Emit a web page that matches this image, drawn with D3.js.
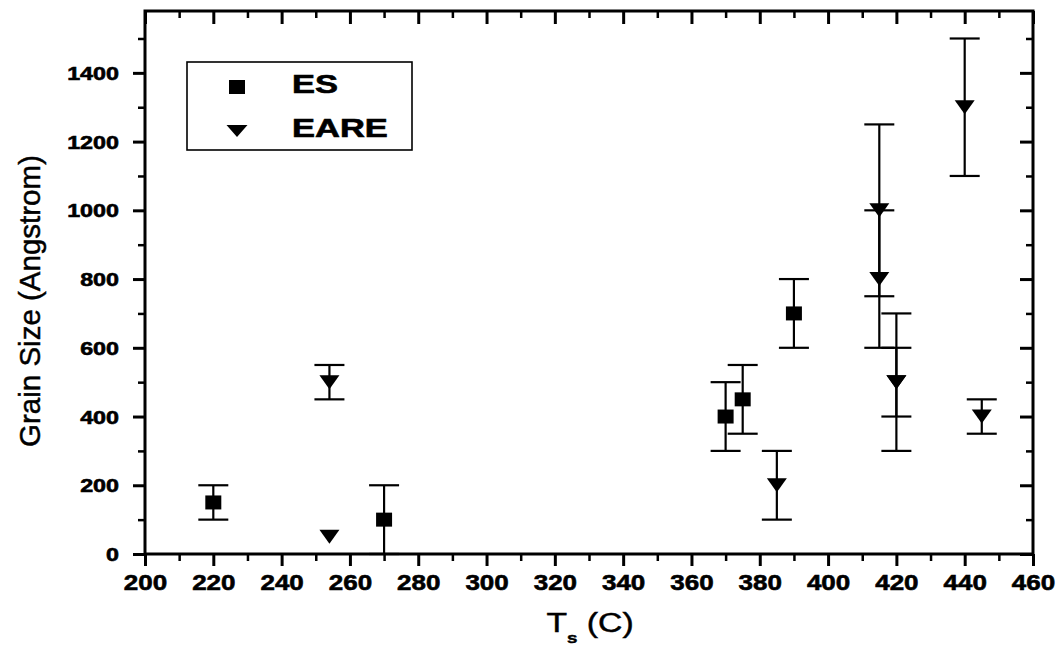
<!DOCTYPE html>
<html>
<head>
<meta charset="utf-8">
<script src="https://cdn.jsdelivr.net/npm/d3@7"></script>
<style>
  html, body { margin: 0; padding: 0; background: #fff; }
  svg { display: block; }
  text { font-family: "Liberation Sans", Arial, Helvetica, sans-serif; fill: #000; }
  text.heavy { stroke: #000; stroke-width: 0.6px; }
  text.medium { stroke: #000; stroke-width: 0.45px; }
</style>
</head>
<body>
<svg id="chart" width="1060" height="650"></svg>
<script>
// Substrate temperature (C) and grain size (Angstrom) with error half-widths
const esTemp  = [220, 270, 370, 375, 390];
const esSize  = [150, 100, 400, 450, 700];
const esErr   = [50, 100, 100, 100, 100];

const eareTemp = [254, 254, 385, 415, 415, 420, 420, 440, 445];
const eareSize = [500, 50, 200, 1000, 800, 500, 500, 1300, 400];
const eareErr  = [50, 0, 100, 250, 200, 200, 100, 200, 50];

const xTicks = [200, 220, 240, 260, 280, 300, 320, 340, 360, 380, 400, 420, 440, 460];
const yTicks = [0, 200, 400, 600, 800, 1000, 1200, 1400];
const xMinor = d3.range(210, 460, 20);
const yMinor = d3.range(100, 1580, 200);

const seriesNames = ["ES", "EARE"];

const svg = d3.select("#chart");
const L = 145, R = 1033, T = 11, B = 554;

const x = d3.scaleLinear().domain([200, 460]).range([L, R]);
const y = d3.scaleLinear().domain([0, 1580]).range([B, T]);

// ---- axes: major ticks outward on bottom/left, inward on top/right ----
function styleTicks(g, width) {
  g.select(".domain").remove();
  g.selectAll(".tick line").attr("stroke", "#000").attr("stroke-width", width);
}

const gxMajor = svg.append("g").attr("transform", `translate(0,${B})`)
  .call(d3.axisBottom(x).tickValues(xTicks).tickSize(12).tickSizeOuter(0).tickFormat(d3.format("d")));
styleTicks(gxMajor, 3);
gxMajor.selectAll(".tick text")
  .attr("class", "heavy")
  .attr("y", 36).attr("dy", null)
  .attr("font-size", 22).attr("font-weight", "bold")
  .attr("transform", "scale(1.18,1)");

const gxMinor = svg.append("g").attr("transform", `translate(0,${B})`)
  .call(d3.axisBottom(x).tickValues(xMinor).tickSize(7).tickFormat(""));
styleTicks(gxMinor, 2.5);

const gtMajor = svg.append("g").attr("transform", `translate(0,${T})`)
  .call(d3.axisTop(x).tickValues(xTicks).tickSize(-13).tickFormat(""));
styleTicks(gtMajor, 3);
const gtMinor = svg.append("g").attr("transform", `translate(0,${T})`)
  .call(d3.axisTop(x).tickValues(xMinor).tickSize(-7).tickFormat(""));
styleTicks(gtMinor, 2.5);

const gyMajor = svg.append("g").attr("transform", `translate(${L},0)`)
  .call(d3.axisLeft(y).tickValues(yTicks).tickSize(12).tickSizeOuter(0).tickFormat(d3.format("d")));
styleTicks(gyMajor, 3);
gyMajor.selectAll(".tick text")
  .attr("class", "heavy")
  .attr("x", -26 / 1.26).attr("dy", "0.36em")
  .attr("font-size", 18.5).attr("font-weight", "bold")
  .attr("transform", "scale(1.26,1)");

const gyMinor = svg.append("g").attr("transform", `translate(${L},0)`)
  .call(d3.axisLeft(y).tickValues(yMinor).tickSize(7).tickFormat(""));
styleTicks(gyMinor, 2.5);

const grMajor = svg.append("g").attr("transform", `translate(${R},0)`)
  .call(d3.axisRight(y).tickValues(yTicks).tickSize(-13).tickFormat(""));
styleTicks(grMajor, 3);
const grMinor = svg.append("g").attr("transform", `translate(${R},0)`)
  .call(d3.axisRight(y).tickValues(yMinor).tickSize(-7).tickFormat(""));
styleTicks(grMinor, 2.5);

// plot frame
svg.append("rect")
  .attr("x", L).attr("y", T).attr("width", R - L).attr("height", B - T)
  .attr("fill", "none").attr("stroke", "#000").attr("stroke-width", 3);

// ---- error bars ----
const capHalf = 15;
function errorBars(temps, sizes, errs) {
  const g = svg.append("g").attr("stroke", "#000").attr("stroke-width", 2.2).attr("fill", "none");
  temps.forEach((t, i) => {
    if (!errs[i]) return;
    const cx = x(t), lo = y(sizes[i] - errs[i]), hi = y(sizes[i] + errs[i]);
    g.append("line").attr("x1", cx).attr("x2", cx).attr("y1", lo).attr("y2", hi);
    g.append("line").attr("x1", cx - capHalf).attr("x2", cx + capHalf).attr("y1", lo).attr("y2", lo);
    g.append("line").attr("x1", cx - capHalf).attr("x2", cx + capHalf).attr("y1", hi).attr("y2", hi);
  });
}
errorBars(esTemp, esSize, esErr);
errorBars(eareTemp, eareSize, eareErr);

// ---- markers ----
const sqW = 16, sqH = 14, triW = 20, triH = 14;
function squarePath(w, h) {
  return `M${-w / 2},${-h / 2}H${w / 2}V${h / 2}H${-w / 2}Z`;
}
function downTriPath(w, h) {
  return `M${-w / 2},${-h / 2}H${w / 2}L0,${h / 2}Z`;
}

svg.append("g").selectAll("path").data(esTemp).join("path")
  .attr("d", squarePath(sqW, sqH))
  .attr("transform", (d, i) => `translate(${x(d)},${y(esSize[i])})`)
  .attr("fill", "#000");

svg.append("g").selectAll("path").data(eareTemp).join("path")
  .attr("d", downTriPath(triW, triH))
  .attr("transform", (d, i) => `translate(${x(d)},${y(eareSize[i])})`)
  .attr("fill", "#000");

// ---- legend ----
const leg = svg.append("g");
leg.append("rect").attr("x", 187).attr("y", 62).attr("width", 225).attr("height", 88)
  .attr("fill", "#fff").attr("stroke", "#000").attr("stroke-width", 1.6);
leg.append("path").attr("d", squarePath(16, 14)).attr("transform", "translate(237,87)").attr("fill", "#000");
leg.append("path").attr("d", downTriPath(21, 12)).attr("transform", "translate(237,131)").attr("fill", "#000");
[[seriesNames[0], 93], [seriesNames[1], 137]].forEach(([name, base]) => {
  leg.append("g").attr("transform", `translate(292,${base})`)
    .append("text").attr("class", "heavy").attr("font-size", 25).attr("font-weight", "bold")
    .attr("transform", "scale(1.38,1)").text(name);
});

// ---- axis titles ----
const xt = svg.append("g").attr("transform", "translate(590,632)")
  .append("text").attr("class", "medium").attr("text-anchor", "middle").attr("font-size", 27)
  .attr("transform", "scale(1.25,1)");
xt.append("tspan").text("T");
xt.append("tspan").attr("font-size", 15).attr("font-weight", "bold").attr("dy", 11).text("s");
xt.append("tspan").attr("dy", -11).text(" (C)");

svg.append("text").attr("class", "medium")
  .attr("transform", "translate(40,301) rotate(-90)")
  .attr("text-anchor", "middle").attr("font-size", 29.5)
  .text("Grain Size (Angstrom)");
</script>
</body>
</html>
